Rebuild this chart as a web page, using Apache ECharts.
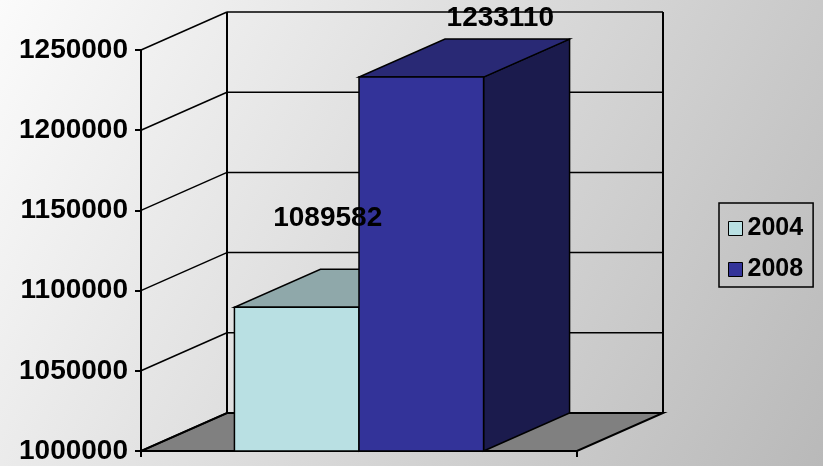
<!DOCTYPE html>
<html>
<head>
<meta charset="utf-8">
<script src="https://cdn.jsdelivr.net/npm/echarts@6/dist/echarts.min.js"></script>
<style>
  html, body { margin: 0; padding: 0; }
  #main { width: 823px; height: 466px; }
</style>
</head>
<body>
<div id="main"></div>
<script>
// data
var categories = [''];
var years = ['2004', '2008'];
var values2004 = [1089582];
var values2008 = [1233110];
var yTicks = [1000000, 1050000, 1100000, 1150000, 1200000, 1250000];

var chart = echarts.init(document.getElementById('main'));

var FONT = '"Liberation Sans", Arial, sans-serif';
var DX = 86, DY = -38;          // depth of the 3d box
var GAP = 1.5;                  // gap width, in bar widths
var LINE = '#000';

function bandInfo(api, v) {
    var c = api.coord([0, v]);
    var band = api.size([1, 0])[0];
    return { cx: c[0], y: c[1], x0: c[0] - band / 2, x1: c[0] + band / 2, band: band };
}

// walls, floor and the grid lines
function renderWalls(params, api) {
    var b = bandInfo(api, yTicks[0]);
    var yb = b.y;
    var yt = api.coord([0, yTicks[yTicks.length - 1]])[1];
    var kids = [];
    kids.push({
        type: 'polygon',
        shape: { points: [[b.x0, yb], [b.x1, yb], [b.x1 + DX, yb + DY], [b.x0 + DX, yb + DY]] },
        style: { fill: '#808080', stroke: LINE, lineWidth: 2 }
    });
    yTicks.forEach(function (v) {
        var y = api.coord([0, v])[1];
        kids.push({
            type: 'line',
            shape: { x1: b.x0, y1: y, x2: b.x0 + DX, y2: y + DY },
            style: { stroke: LINE, lineWidth: 1.5 }
        });
        kids.push({
            type: 'line',
            shape: { x1: b.x0 + DX, y1: y + DY, x2: b.x1 + DX, y2: y + DY },
            style: { stroke: LINE, lineWidth: 1.5 }
        });
    });
    [b.x0 + DX, b.x1 + DX].forEach(function (x) {
        kids.push({
            type: 'line',
            shape: { x1: x, y1: yt + DY, x2: x, y2: yb + DY },
            style: { stroke: LINE, lineWidth: 2 }
        });
    });
    return { type: 'group', children: kids };
}

function makeBar(idx, front, top, side, labelDx, labelDy) {
    return function (params, api) {
        var b = bandInfo(api, yTicks[0]);
        var yb = b.y;
        var yT = api.coord([0, api.value(1)])[1];
        var w = b.band / (years.length + GAP);
        var x = b.cx - w * years.length / 2 + idx * w;
        var st = { stroke: LINE, lineWidth: 1.5 };
        return {
            type: 'group',
            children: [
                {
                    type: 'polygon',
                    shape: { points: [[x + w, yT], [x + w + DX, yT + DY], [x + w + DX, yb + DY], [x + w, yb]] },
                    style: Object.assign({ fill: side }, st)
                },
                {
                    type: 'polygon',
                    shape: { points: [[x, yT], [x + w, yT], [x + w + DX, yT + DY], [x + DX, yT + DY]] },
                    style: Object.assign({ fill: top }, st)
                },
                {
                    type: 'rect',
                    shape: { x: x, y: yT, width: w, height: yb - yT },
                    style: Object.assign({ fill: front }, st)
                },
                {
                    type: 'text',
                    z2: 100,
                    x: x + w / 2 + labelDx,
                    y: yT + labelDy,
                    style: {
                        text: String(api.value(1)),
                        fill: '#000',
                        font: 'bold 28px ' + FONT,
                        align: 'center',
                        verticalAlign: 'middle'
                    }
                }
            ]
        };
    };
}

var option = {
    backgroundColor: {
        type: 'linear', x: 0, y: 0, x2: 1, y2: 1,
        colorStops: [{ offset: 0, color: '#fbfbfb' }, { offset: 1, color: '#b9b9b9' }]
    },
    animation: false,
    grid: { left: 141, right: 246, top: 50, bottom: 15 },
    legend: {
        data: years,
        orient: 'vertical',
        left: 719,
        top: 203,
        itemWidth: 14,
        itemHeight: 14,
        itemGap: 16,
        padding: [13, 10, 5, 9],
        borderColor: '#000',
        borderWidth: 1.5,
        icon: 'rect',
        itemStyle: { borderColor: '#000', borderWidth: 1 },
        textStyle: { fontFamily: FONT, fontWeight: 'bold', fontSize: 25, color: '#000' },
        selectedMode: false
    },
    xAxis: {
        type: 'category',
        data: categories,
        axisLine: { lineStyle: { color: LINE, width: 2 } },
        axisTick: { show: true, length: 6, lineStyle: { color: LINE, width: 2 } },
        axisLabel: { show: false },
        splitLine: { show: false }
    },
    yAxis: {
        type: 'value',
        min: yTicks[0],
        max: yTicks[yTicks.length - 1],
        interval: 50000,
        axisLine: { show: true, lineStyle: { color: LINE, width: 2 } },
        axisTick: { show: true, length: 6, lineStyle: { color: LINE, width: 2 } },
        axisLabel: {
            margin: 13, color: '#000', fontFamily: FONT, fontWeight: 'bold', fontSize: 28,
            formatter: function (v) { return String(v); }
        },
        splitLine: { show: false }
    },
    series: [
        {
            name: 'walls', type: 'custom', clip: false, silent: true,
            renderItem: renderWalls, data: [[0, yTicks[0]]]
        },
        {
            name: years[0], type: 'custom', clip: false,
            itemStyle: { color: '#b9e0e3' },
            renderItem: makeBar(0, '#b9e0e3', '#8fa8aa', '#6f8c8e', 31, -89),
            data: values2004.map(function (v, i) { return [i, v]; })
        },
        {
            name: years[1], type: 'custom', clip: false,
            itemStyle: { color: '#333399' },
            renderItem: makeBar(1, '#333399', '#292975', '#1b1b4d', 79, -59),
            data: values2008.map(function (v, i) { return [i, v]; })
        }
    ]
};

chart.setOption(option);
</script>
</body>
</html>
